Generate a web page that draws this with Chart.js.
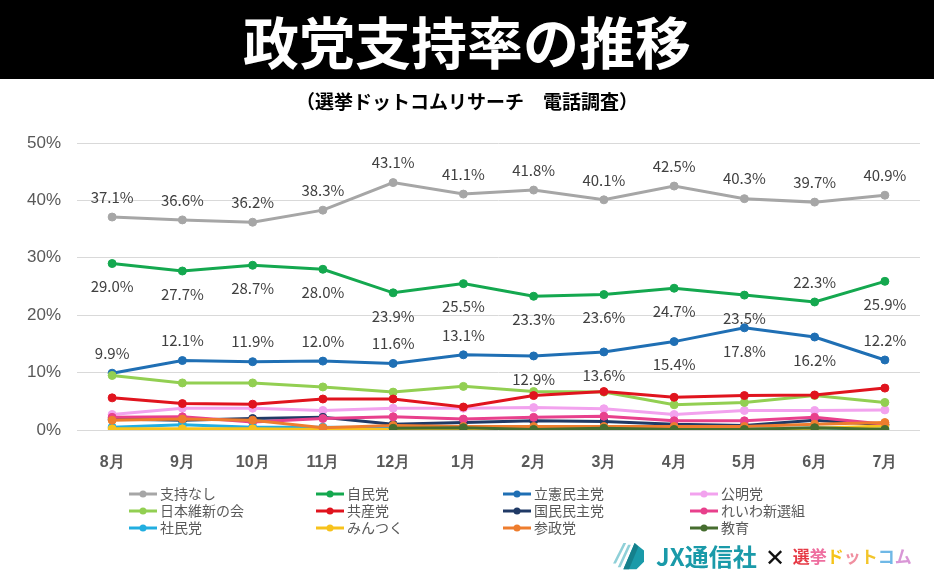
<!DOCTYPE html>
<html lang="ja">
<head>
<meta charset="utf-8">
<script src="https://cdn.jsdelivr.net/npm/chart.js@4"></script>
<style>
  body { margin: 0; width: 934px; height: 577px; background: #fff; position: relative; overflow: hidden;
         font-family: 'Noto Sans CJK JP', 'Noto Sans', sans-serif; }
  #titleBar { position: absolute; left: 0; top: 0; width: 934px; height: 79px; background: #000;
              color: #fff; font-weight: 700; font-size: 56px; line-height: 79px; text-align: center; }
  #subTitle { position: absolute; left: 0; top: 88px; width: 934px; text-align: center;
              font-size: 19px; font-weight: 700; color: #000; line-height: 26px; }
  #chartBox { position: absolute; left: 0; top: 79px; width: 934px; height: 498px; }
  #logo { position: absolute; left: 612px; top: 540px; height: 32px; display: flex; align-items: center;
          white-space: nowrap; }
  #logo .jx { color: #1a9aa9; font-size: 24px; font-weight: 700; margin-left: 10px; line-height: 32px; }
  #logo .x { color: #111; font-size: 24px; margin: 0 8px; line-height: 32px; }
  #logo .sk { font-size: 17px; font-weight: 700; line-height: 32px; }
</style>
</head>
<body>
<div id="titleBar">政党支持率の推移</div>
<div id="chartBox"><canvas id="supportChart"></canvas></div>
<div id="subTitle">（選挙ドットコムリサーチ　電話調査）</div>
<div id="logo">
  <svg width="34" height="30" viewBox="0 0 36 32">
    <polygon points="1,24 12,2 15,2 4,24" fill="#8fd0d8"/>
    <polygon points="6,28 17,4 20,4 9,28" fill="#8fd0d8"/>
    <polygon points="12,30 24,2 34,10 34,22 26,30" fill="#1a9aa9"/>
    <polygon points="12,30 24,2 28,6 18,30" fill="#15808c"/>
  </svg>
  <span class="jx">JX通信社</span><span class="x">✕</span><span class="sk"><span style="color:#e63a46">選</span><span style="color:#ee6e9f">挙</span><span style="color:#f5c419">ド</span><span style="color:#f08fa0">ッ</span><span style="color:#f3c52a">ト</span><span style="color:#6fb8e6">コ</span><span style="color:#d996d6">ム</span></span>
</div>
<script>
// Months
const months = ['8月', '9月', '10月', '11月', '12月', '1月', '2月', '3月', '4月', '5月', '6月', '7月'];

// Support rates (%) per party
const noSupport   = [37.1, 36.6, 36.2, 38.3, 43.1, 41.1, 41.8, 40.1, 42.5, 40.3, 39.7, 40.9];
const ldp         = [29.0, 27.7, 28.7, 28.0, 23.9, 25.5, 23.3, 23.6, 24.7, 23.5, 22.3, 25.9];
const cdp         = [9.9, 12.1, 11.9, 12.0, 11.6, 13.1, 12.9, 13.6, 15.4, 17.8, 16.2, 12.2];
const komeito     = [2.7, 3.8, 3.8, 3.4, 3.8, 3.8, 3.9, 3.7, 2.7, 3.4, 3.4, 3.5];
const ishin       = [9.5, 8.2, 8.2, 7.5, 6.6, 7.6, 6.7, 6.6, 4.4, 4.8, 6.0, 4.8];
const jcp         = [5.6, 4.6, 4.5, 5.4, 5.4, 4.0, 6.0, 6.7, 5.7, 6.0, 6.1, 7.3];
const dpfp        = [1.9, 1.7, 2.0, 2.2, 1.0, 1.3, 1.6, 1.5, 1.0, 0.8, 1.7, 0.9];
const reiwa       = [2.2, 2.3, 1.4, 2.0, 2.3, 1.9, 2.2, 2.4, 1.6, 1.6, 2.2, 1.0];
const sdp         = [0.5, 0.9, 0.5, 0.5, 0.4, 0.4, 0.3, 0.3, 0.3, 0.3, 0.3, 0.3];
const mintsuku    = [0.2, 0.2, 0.2, 0.1, 0.1, 0.1, 0.1, 0.1, 0.1, 0.1, 0.3, 0.7];
const sanseito    = [1.7, 1.9, 1.7, 0.4, 0.8, 0.6, 0.6, 0.6, 0.6, 0.6, 1.0, 1.3];
const kyoiku      = [null, null, null, null, 0.3, 0.4, 0.1, 0.3, 0.1, 0.1, 0.4, 0.1];

const partyNames = ['支持なし', '自民党', '立憲民主党', '公明党', '日本維新の会', '共産党',
                    '国民民主党', 'れいわ新選組', '社民党', 'みんつく', '参政党', '教育'];
const partyValues = [noSupport, ldp, cdp, komeito, ishin, jcp, dpfp, reiwa, sdp, mintsuku, sanseito, kyoiku];
const partyColors = ['#a6a6a6', '#14a84f', '#1f6fb4', '#f2a2ee', '#92cf52', '#e0141e',
                     '#203a66', '#e8408c', '#22aee0', '#f7c21c', '#ee7d2e', '#466d2f'];

// Where the value labels go (only the top three series are labelled)
const labelSides = [
    Array(12).fill('above'),
    ['below', 'below', 'below', 'below', 'below', 'below', 'below', 'below', 'below', 'below', 'above', 'below'],
    ['above', 'above', 'above', 'above', 'above', 'above', 'below', 'below', 'below', 'below', 'below', 'above']
];

const datasets = partyNames.map((name, i) => ({
    label: name,
    data: partyValues[i],
    borderColor: partyColors[i],
    backgroundColor: partyColors[i],
    pointBackgroundColor: partyColors[i],
    pointBorderColor: partyColors[i],
    borderWidth: 3,
    pointRadius: 4,
    pointBorderWidth: 1,
    tension: 0,
    order: partyNames.length - i   // later series on top, like the original
}));

// Value labels for the first three series
const valueLabels = {
    id: 'valueLabels',
    afterDatasetsDraw(chart) {
        const ctx = chart.ctx;
        ctx.save();
        ctx.font = "15px 'Noto Sans CJK JP', 'Noto Sans', sans-serif";
        ctx.fillStyle = '#404040';
        ctx.textAlign = 'center';
        ctx.textBaseline = 'middle';
        labelSides.forEach((sides, di) => {
            const meta = chart.getDatasetMeta(di);
            meta.data.forEach((pt, j) => {
                const v = chart.data.datasets[di].data[j];
                if (v == null) return;
                const dy = sides[j] === 'above' ? -20 : 23;
                ctx.fillText(v.toFixed(1) + '%', pt.x, pt.y + dy);
            });
        });
        ctx.restore();
    }
};

// Legend drawn as a 4-column grid, line + dot markers
const gridLegend = {
    id: 'gridLegend',
    afterDraw(chart) {
        const ctx = chart.ctx;
        ctx.save();
        ctx.font = "14px 'Noto Sans CJK JP', sans-serif";
        ctx.textBaseline = 'middle';
        ctx.textAlign = 'left';
        chart.data.datasets.forEach((ds, i) => {
            const x = 129 + (i % 4) * 187;
            const y = 415 + Math.floor(i / 4) * 17;
            ctx.strokeStyle = ds.borderColor;
            ctx.lineWidth = 3;
            ctx.beginPath();
            ctx.moveTo(x, y);
            ctx.lineTo(x + 28, y);
            ctx.stroke();
            ctx.fillStyle = ds.borderColor;
            ctx.beginPath();
            ctx.arc(x + 14, y, 3.5, 0, Math.PI * 2);
            ctx.fill();
            ctx.fillStyle = '#595959';
            ctx.fillText(ds.label, x + 31, y);
        });
        ctx.restore();
    }
};

const supportChartCtx = document.getElementById('supportChart').getContext('2d');

const supportChart = new Chart(supportChartCtx, {
    type: 'line',
    data: {
        labels: months,
        datasets: datasets
    },
    options: {
        responsive: true,
        maintainAspectRatio: false,
        animation: false,
        layout: {
            padding: { top: 64, left: 0, right: 14, bottom: 97 }
        },
        scales: {
            x: {
                offset: true,
                grid: { display: false, drawTicks: false },
                border: { display: false },
                ticks: {
                    padding: 23,
                    color: '#595959',
                    font: { size: 16, weight: 'bold' }
                },
                afterFit(scale) { scale.height = 50; }
            },
            y: {
                min: 0,
                max: 50,
                grid: { color: '#d9d9d9', lineWidth: 1, drawTicks: false },
                border: { display: false },
                ticks: {
                    stepSize: 10,
                    padding: 16,
                    color: '#595959',
                    font: { size: 17 },
                    callback: v => v + '%'
                },
                afterFit(scale) { scale.width = 77; }
            }
        },
        plugins: {
            legend: { display: false },
            tooltip: { enabled: false }
        }
    },
    plugins: [valueLabels, gridLegend]
});
</script>
</body>
</html>
